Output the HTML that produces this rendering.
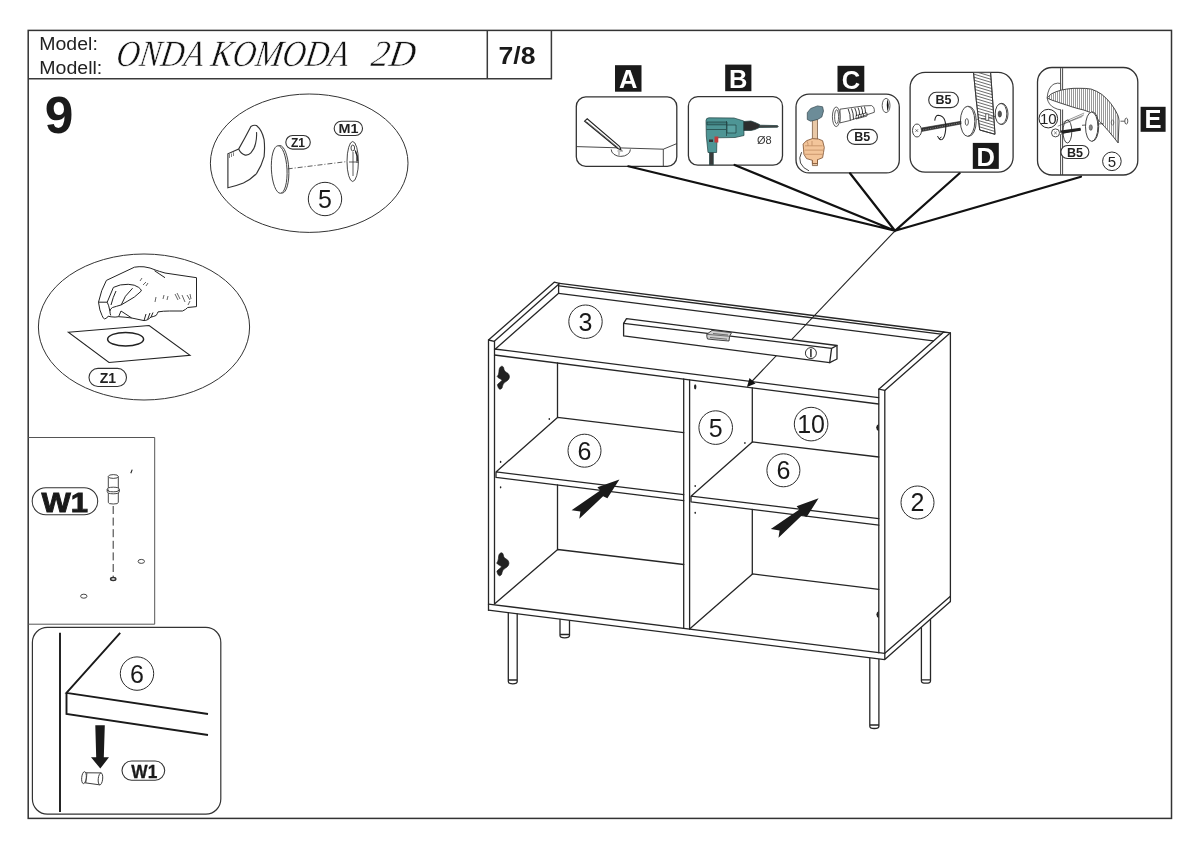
<!DOCTYPE html>
<html><head><meta charset="utf-8">
<style>
html,body{margin:0;padding:0;background:#fff;width:1200px;height:849px;overflow:hidden}
svg{position:absolute;left:0;top:0;display:block;will-change:transform}
text{font-family:"Liberation Sans",sans-serif}
.l{fill:none;stroke:#262626;stroke-width:1.3;stroke-linejoin:round;stroke-linecap:round}
.t{fill:none;stroke:#333;stroke-width:1}
.k{fill:none;stroke:#111;stroke-width:2.2;stroke-linecap:round}
.b{fill:none;stroke:#3a3a3a;stroke-width:1.5}
.c{fill:#fff;stroke:#2a2a2a;stroke-width:1}
.n{font-size:25px;fill:#1a1a1a;text-anchor:middle}
.pill{fill:#fff;stroke:#333;stroke-width:1.1}
.pt{font-weight:bold;fill:#222;text-anchor:middle}
</style></head><body>
<svg width="1200" height="849" viewBox="0 0 1200 849">
<!-- outer border -->
<rect x="28.2" y="30.4" width="1143.3" height="788" fill="none" stroke="#333" stroke-width="1.5"/>
<!-- header -->
<path class="b" d="M28.2 78.7H551.4V30.4M487.3 30.4V78.7"/>
<text x="39.3" y="49.8" font-size="17.5" fill="#222" textLength="58.5" lengthAdjust="spacingAndGlyphs">Model:</text>
<text x="39.3" y="73.8" font-size="17.5" fill="#222" textLength="63" lengthAdjust="spacingAndGlyphs">Modell:</text>
<text transform="translate(0 65.8) skewX(-9) translate(0 -65.8)" x="115" y="65.8" style="font-family:'Liberation Serif',serif;font-style:italic" font-size="37" fill="#111" stroke="#fff" stroke-width="0.5" textLength="232" lengthAdjust="spacingAndGlyphs">ONDA KOMODA</text>
<text transform="translate(0 65.8) skewX(-9) translate(0 -65.8)" x="370" y="65.8" style="font-family:'Liberation Serif',serif;font-style:italic" font-size="37" fill="#111" stroke="#fff" stroke-width="0.5" textLength="44" lengthAdjust="spacingAndGlyphs">2D</text>
<text x="498.5" y="63.8" font-size="23" font-weight="bold" fill="#1a1a1a" textLength="37" lengthAdjust="spacingAndGlyphs">7/8</text>
<text x="59.2" y="132.8" font-size="51.5" font-weight="bold" fill="#1a1a1a" text-anchor="middle">9</text>



<!-- ===== LEFT PANELS ===== -->
<!-- ellipse 1: Z1 M1 -->
<ellipse cx="309.2" cy="163.2" rx="98.8" ry="69.2" fill="none" stroke="#333" stroke-width="1"/>
<g fill="none" stroke="#333" stroke-width="0.9">
<path stroke-width="1.15" d="M227.9 187.7V153.8L238.6 149.1Q245 138 250.9 126.5Q253.5 124.8 256.5 125.5Q262 130 264.1 139.7Q265 148 264.1 156.6Q261.5 166 256.5 173.6Q250 180 243.4 183Q236 186 227.9 187.7Z" fill="#fff"/>
<path stroke-width="1.1" d="M238.6 149.1Q241 154 245.2 155.1Q248.5 155.5 250.9 152.9Q254.5 149 255.6 143.4Q257 137 256.5 132.1"/>
<path d="M229.5 154V158M231.5 153.5V157M233.5 152.3V156" stroke-width="0.6"/>
<ellipse cx="281" cy="169.3" rx="7.8" ry="23.8" transform="rotate(-3 281 169.3)" fill="#fff"/>
<ellipse cx="279.2" cy="169.5" rx="7.8" ry="23.8" transform="rotate(-3 279.2 169.5)" fill="#fff"/>
<path d="M287.7 168.9L347.5 161.5" stroke-dasharray="5 2 1 2" stroke-width="0.8"/>
<ellipse cx="352.7" cy="161.5" rx="5.7" ry="20" fill="#fff"/>
<ellipse cx="352.8" cy="148" rx="1.8" ry="3"/>
<path d="M349 162H358.5M353 152V176M355 150Q358 156 357 163" stroke-width="0.8"/>
<path d="M355.5 151Q358 156 357.2 161" stroke="#222" stroke-width="1.3"/>
</g>
<g class="pill"><rect x="285.8" y="135.5" width="24.5" height="13.6" rx="6.8"/><rect x="334.2" y="121.2" width="28.3" height="14.3" rx="7.1"/></g>
<g class="pt" font-size="12"><text x="298" y="146.5">Z1</text><text x="348.4" y="133" font-size="13.5" textLength="20" lengthAdjust="spacingAndGlyphs">M1</text></g>
<circle class="c" cx="325" cy="199" r="16.7"/>
<text class="n" x="325" y="207.9">5</text>

<!-- ellipse 2: hand + paper -->
<ellipse cx="144" cy="327" rx="105.6" ry="73" fill="none" stroke="#333" stroke-width="1"/>
<g fill="none" stroke="#222" stroke-width="1">
<path d="M68.3 332.3L149.1 325.5L190 355.4L109 362.5Z" stroke-width="1.1"/>
<ellipse cx="125.6" cy="339.2" rx="18" ry="6.8" stroke-width="1.5"/>
<path d="M196.5 277.7L165 273Q158 271 156.2 270.3Q150 267.5 144 266.8Q139 266.4 134.4 267.2L106.4 280.4Q101 290 98.5 302.2Q99.5 311 102 315.4Q103 318.5 104.6 318.9Q107 318.5 108.1 316.2Q110.5 317 115.1 317.1L118.6 316.7Q125 317 131.7 318L144 320.6Q146 320.5 147.5 319.7Q149.5 318.5 151 317.1Q154 316.5 156.2 315.4Q157.5 313.5 158 311.9Q163 311 169.4 311L182.5 311Q186 309.5 187.7 307.5L196.5 306.6Z" fill="#fff"/>
<path d="M98.5 302.2L107.2 302.2Q108.8 305 109.9 311Q110 313.5 110.7 315.4"/>
<path d="M107.2 302.2L113.4 287.4Q120 284 128.2 284.3Q135 284.5 138.7 287.4Q141 289 141.4 290.9Q138 294 134.4 297Q128 301 121.2 304.9Q116 306.5 112.5 307.5Q110 309 109.9 311"/>
<path d="M121.2 304.9Q124 296 132.6 288.2M116 291Q113 297 111 305M118.6 316.7L121 311L131.7 318M144 320.6L146 314M147.5 319.7L150 313M151 317.1L153 312.5M154.5 270.7L165 277.7"/>
<path d="M140 281L142 278M143 285L146 282M146 286L148 283M155 302L156 297M163 299L164 295M167 300L168 296M175 294L178 300M177 293L180 299M182 295L185 302M187 295L190 300M190 294L191 299M188 305L190 301" stroke-width="0.7"/>
</g>
<rect class="pill" x="89" y="368.4" width="37.5" height="18.1" rx="9"/>
<text class="pt" x="107.8" y="382.8" font-size="14">Z1</text>

<!-- W1 panel -->
<path d="M28.2 437.5H154.7V624.2H28.2" fill="none" stroke="#555" stroke-width="1"/>
<rect x="32.2" y="487.7" width="65.5" height="27.1" rx="13.5" fill="#fff" stroke="#333" stroke-width="1.1"/>
<text x="41.5" y="512.3" font-size="27.5" font-weight="bold" fill="#1a1a1a" stroke="#1a1a1a" stroke-width="0.9" textLength="46.5" lengthAdjust="spacingAndGlyphs">W1</text>
<g fill="none" stroke="#333" stroke-width="0.9">
<path d="M108.3 476.5V502.5Q108.3 504 113.3 504Q118.3 504 118.3 502.5V476.5" fill="#fff"/>
<ellipse cx="113.3" cy="476.5" rx="5" ry="1.9" fill="#fff"/>
<path d="M107.2 489.5Q107.2 491.8 113.3 491.8Q119.4 491.8 119.4 489.5M107.2 489.5Q107.2 487.2 113.3 487.2Q119.4 487.2 119.4 489.5V491.5Q119.4 493.8 113.3 493.8Q107.2 493.8 107.2 491.5Z" fill="#fff"/>
<path d="M113.2 506V577" stroke-dasharray="8 3.6" stroke-width="1"/>
<ellipse cx="113.2" cy="579" rx="2.6" ry="1.5" stroke-width="1.5"/>
<ellipse cx="141.3" cy="561.4" rx="3.2" ry="2"/>
<ellipse cx="83.8" cy="596.2" rx="3.2" ry="2"/>
<path d="M130.8 473.3L132.2 469.6" stroke-width="1.1" stroke="#222"/>
</g>

<!-- bottom-left panel -->
<rect x="32.4" y="627.4" width="188.4" height="186.7" rx="15" fill="none" stroke="#333" stroke-width="1.2"/>
<g fill="none" stroke="#1a1a1a" stroke-width="1.9">
<path d="M60 632.8V812"/>
<path d="M120.2 632.8L66.5 692.9L208 714M66.5 692.9V714L208 735"/>
</g>
<circle class="c" cx="137" cy="673.6" r="16.7"/>
<text class="n" x="137" y="682.5">6</text>
<path d="M95.3 725.3H104.8L103.8 757.2H109L100.3 768.6L91 757.2H96.2Z" fill="#1a1a1a"/>
<rect x="122" y="761" width="42.7" height="19.2" rx="9.6" fill="#fff" stroke="#333" stroke-width="1.1"/>
<text x="131.3" y="777.5" font-size="17.5" font-weight="bold" fill="#1a1a1a" stroke="#1a1a1a" stroke-width="0.3" textLength="26" lengthAdjust="spacingAndGlyphs">W1</text>
<g fill="#fff" stroke="#333" stroke-width="0.9" transform="rotate(6 92 778)">
<path d="M85 773.5L100.5 772V784L85 783.5Z"/>
<ellipse cx="84" cy="778.5" rx="2.3" ry="6"/>
<ellipse cx="100.5" cy="778" rx="2.2" ry="6"/>
<path d="M86.5 773.5V783.5" stroke-width="0.6"/>
</g>

<!-- ===== TOOL BOXES ===== -->
<g fill="#fff" stroke="#333" stroke-width="1.3">
<rect x="576.3" y="96.9" width="100.5" height="69.4" rx="9.5"/>
<rect x="688.4" y="96.6" width="94.1" height="68.6" rx="9.5"/>
<rect x="796" y="94.1" width="103.3" height="78.8" rx="13"/>
<rect x="910.1" y="72.4" width="103" height="99.8" rx="15"/>
<rect x="1037.5" y="67.5" width="100.3" height="107.5" rx="14.5"/>
</g>
<g fill="#1a1a1a">
<rect x="615" y="65.2" width="26.5" height="26.5"/>
<rect x="725.2" y="64.6" width="26.2" height="26.6"/>
<rect x="837.5" y="65.8" width="26.8" height="26"/>
<rect x="972.8" y="142.9" width="26" height="26"/>
<rect x="1140.6" y="106.8" width="25" height="25"/>
</g>
<g font-weight="bold" fill="#fff" font-size="25.5" text-anchor="middle">
<text x="628.2" y="88.3">A</text>
<text x="738.3" y="87.7">B</text>
<text x="851" y="88.5">C</text>
<text x="985.8" y="165.5">D</text>
<text x="1153.1" y="128.3">E</text>
</g>
<!-- A content -->
<g fill="none" stroke="#333" stroke-width="0.9">
<path d="M576.7 146.6L663.3 149.2L676.8 143.6M663.3 149.2V166.2"/>
<path d="M611.2 149.4A9.6 7 0 0 0 630.4 149.4"/>
<path d="M584.6 121.2L587.2 118.8L619.7 146.5L620.9 149.8L617.8 148.5Z" fill="#fff" stroke="#222" stroke-width="1.1"/>
<path d="M586.4 121.6L618.5 148" stroke="#444" stroke-width="0.7"/>
<path d="M619 152V155M617.5 151H623" stroke-width="0.6"/>
</g>
<!-- B drill -->
<g stroke="#1f3f3f" stroke-width="0.7">
<path d="M709.5 152.3H713.3V164.8H709.5Z" fill="#3a3a3a"/>
<path d="M706 120.5Q706 118 709 117.8L734 118L743.8 121L744 135.5L735 137.5L717 137.8L716.6 152.5L708 152.5L706.3 136Z" fill="#4e9595"/>
<path d="M707 122H727V124.8H707Z" fill="#3f8080"/>
<path d="M726.5 121V136M706.5 129.5H726" fill="none"/>
<path d="M727 125H736V133H727Z" fill="#5aa2a2"/>
<path d="M743.8 121.5L751 121L755 122.5L759.5 124.5V127.5L755 129.5L751 130.5L743.8 130.5Z" fill="#2c2c2c"/>
<path d="M759.5 125.2L777.5 125.6L778.3 126.5L777.5 127.3L759.5 127.5Z" fill="#444"/>
<path d="M714.5 136.5H718.3V142.5H714.5Z" fill="#c23a3a" stroke="none"/>
<path d="M709 139.5H713V142H709Z" fill="#333" stroke="none"/>
</g>
<text x="757" y="143.6" font-size="11" fill="#333">Ø8</text>
<!-- C hammer & dowel -->
<path d="M801.6 152.2Q798.5 158 800.5 163Q803 168.5 809 170.8" fill="none" stroke="#333" stroke-width="0.9"/>
<path d="M812.4 119.5H817.5V165.6H812.4Z" fill="#e9c8a6" stroke="#6a4a30" stroke-width="0.7"/>
<path d="M807.3 112.7L810.7 108.5L817.5 105.9L822.6 106.8L823.5 111L821.8 117L817.5 119.5L810.7 121.2L807.3 119.5Z" fill="#6c8c98" stroke="#34464e" stroke-width="0.7"/>
<path d="M803.1 144.1L806.5 140.7L812.4 138.6L818.4 139L822.6 140.7L824.3 147.5L823.5 152.6L822.6 157.7L818.4 159.4L817.5 159.6V163.5H812.4V160.3L806.5 158.6L803.9 154.3L803.5 149.2Z" fill="#f3c59a" stroke="#7a4c2c" stroke-width="0.8"/>
<path d="M805 145.8H822.5M804.5 150.1H823M805 154.3H822.5M812 141V145.5M806.5 140.7Q808.5 143 808 145.8" stroke="#b07a50" stroke-width="0.6" fill="none"/>
<g fill="#fff" stroke="#333" stroke-width="0.8">
<path d="M840 109.2L863.7 105.9L871.6 105.6Q874.3 107 874.3 109.5V112.3L849.2 120.7L840 122.9Z"/>
<ellipse cx="836.2" cy="116.8" rx="3.8" ry="9.8"/>
<ellipse cx="836.6" cy="116.8" rx="2" ry="7"/>
<path d="M848.2 109Q850.5 114 850.3 120.5M851.5 108.5Q853.5 113 853.5 119.5M854.8 108Q856.8 112 856.5 116M858 107.5Q859.8 111 859.5 115M861.2 107Q862.8 110 862.6 114M864.4 106.5Q865.5 109 865.5 113" fill="none" stroke="#222" stroke-width="0.9"/>
<path d="M856 115.5L867 112.8V116L856 119Z M858.5 115V118.3M861 114.3V117.6M863.5 113.7V117" fill="none" stroke="#222" stroke-width="0.7"/>
<ellipse cx="886.1" cy="105.5" rx="3.9" ry="7.1"/>
</g>
<path d="M887.2 99.3Q890.2 105.5 887.4 111.6Q886.2 105.5 887.2 99.3Z" fill="#111"/>
<!-- D -->
<defs><clipPath id="bandclip"><path d="M973.5 72.6L990.6 72.6Q993 104 995 134.3L979.7 130Q976 100 973.5 72.6Z"/></clipPath></defs>
<g fill="none" stroke="#333" stroke-width="0.8">
<path d="M973.5 72.6L990.6 72.6Q993 104 995 134.3L979.7 130Q976 100 973.5 72.6Z" fill="#fff"/>
<path clip-path="url(#bandclip)" d="M970 70.0L1000 79.0M970 73.0L1000 82.0M970 76.0L1000 85.0M970 79.0L1000 88.0M970 82.0L1000 91.0M970 85.0L1000 94.0M970 88.0L1000 97.0M970 91.0L1000 100.0M970 94.0L1000 103.0M970 97.0L1000 106.0M970 100.0L1000 109.0M970 103.0L1000 112.0M970 106.0L1000 115.0M970 109.0L1000 118.0M970 112.0L1000 121.0M970 115.0L1000 124.0M970 118.0L1000 127.0M970 121.0L1000 130.0M970 124.0L1000 133.0M970 127.0L1000 136.0M970 130.0L1000 139.0M970 133.0L1000 142.0" stroke-width="0.75" stroke="#3a3a3a"/>
<path d="M973.5 72.6Q976 100 979.7 130L995 134.3Q993 104 990.6 72.6" stroke-width="0.9"/>
<ellipse cx="968.8" cy="121.3" rx="7.4" ry="15" fill="#fff" stroke-width="0.9"/>
<ellipse cx="967.6" cy="121.3" rx="7.2" ry="15" fill="#fff" stroke-width="0.9"/>
<ellipse cx="966.8" cy="122" rx="1.6" ry="3.4" stroke-width="0.8"/>
<ellipse cx="1001.8" cy="113.9" rx="6.2" ry="10.6" fill="#fff" stroke-width="0.9"/>
<ellipse cx="1001" cy="113.9" rx="5.8" ry="10.4" fill="#fff" stroke-width="0.9"/>
<ellipse cx="999.8" cy="114" rx="1.7" ry="3.1" fill="#555" stroke-width="0.6"/>
<path d="M985.7 113.9H988.7V120.3H985.7Z" fill="#fff" stroke-width="0.7"/>
<path d="M976.5 119.4L979 119.2M981 118.9L985.7 118.4M988.7 117.8L995 116.4" stroke-width="0.7"/>
<path d="M921.5 128L961 121.3L961 124L921.5 131.5Z" fill="#333" stroke="#222" stroke-width="0.6"/>
<path d="M923 130L961 122.7" stroke="#999" stroke-width="0.7" stroke-dasharray="1.2 1.2"/>
<ellipse cx="917" cy="130.5" rx="4.5" ry="6.5" fill="#fff" stroke-width="0.9"/>
<path d="M915.5 129.3L918 131.8M918 129.3L915.5 131.8" stroke-width="0.7"/>
<path d="M934.7 120.7Q935.5 115.2 938.2 115.2Q943.5 115.5 944.9 120.7Q946.5 126 945.7 129.2Q945 137 942.3 139.4Q940.5 140.5 939 138.5" stroke-width="1.1" stroke="#222"/>
<path d="M937.5 136L939 138.8L941.5 137" stroke-width="1" stroke="#222"/>
</g>
<!-- E -->
<g fill="none" stroke="#333" stroke-width="0.8">
<path d="M1060.6 68.2V91M1062.6 68.2V91M1060.6 109.5V175M1062.6 109.5V175" stroke-width="0.9"/>
<path d="M1047.1 98Q1048 87 1054 84Q1058 82.5 1060.6 83.5V91M1047.1 98Q1048.5 105 1054.1 107.7Q1057.5 109.5 1060.8 109.9" fill="#fff"/>
<path d="M1047.1 98Q1051 93 1055.9 91.8Q1061 89.8 1066.5 89.1Q1073 88 1079.8 88.3Q1086 88.2 1091.2 89.1Q1097 91 1101.8 94.4Q1107 98.5 1110.7 103.3Q1115 109 1117.7 114.8Q1119 118 1119 121L1118.2 143Q1114 137.5 1108.9 131.5Q1104.5 126.5 1100.1 121.8Q1095 116.5 1089.5 112.1Q1084 109.8 1078 108.6Q1072 107 1066.5 105Q1061 103.3 1055.9 101.5Q1051 100 1047.1 98Z" fill="#fff" stroke-width="0.9"/>
<path d="M1049.5 95.5V99.2M1051.5 94.3V99.8M1053.5 93.3V100.7M1055.5 92.3V101.4M1057.5 91.5V102M1059.5 90.8V102.7M1061.5 90.3V103.4M1063.5 89.8V104M1065.5 89.4V104.7M1067.5 89V105.3M1069.5 88.7V106M1071.5 88.5V106.5M1073.5 88.3V107M1075.5 88.2V107.6M1077.5 88.2V108.3M1079.5 88.2V108.8M1081.5 88.3V109.3M1083.5 88.4V109.9M1085.5 88.6V110.6M1087.5 88.8V111.3M1089.5 89.1V112.1M1091.5 89.3V113.6M1093.5 90V115.2M1095.5 91V117M1097.5 91.8V118.8M1099.5 93V120.8M1101.5 94.3V122.7M1103.5 96V124.8M1105.5 98V127M1107.5 100V129.8M1109.5 102.2V132.6M1111.5 104.8V135.2M1113.5 107.8V137.5M1115.5 110.8V140M1117.3 114.5V142" stroke-width="0.55" stroke="#444"/>
<path d="M1062.1 122.7L1084.2 113M1062.1 124.5L1084 114.8M1057.7 126.2L1082.4 116.5" stroke-width="0.5"/>
<ellipse cx="1067.4" cy="131.5" rx="4.4" ry="11.5" stroke-width="0.9"/>
<path d="M1061 132L1080.6 129.3" stroke="#222" stroke-width="3"/>
<path d="M1063 133L1080.6 129.3" stroke="#222" stroke-width="1.5"/>
<circle cx="1055.5" cy="132.9" r="4" fill="#fff" stroke-width="0.9"/>
<path d="M1054.2 131.6L1056.8 134.2M1056.8 131.6L1054.2 134.2" stroke-width="0.6"/>
<path d="M1059.5 132.5H1061.5V134.5H1059.5Z" fill="#fff" stroke-width="0.4"/>
<path d="M1085.8 125L1082 125.3M1098.5 124L1103 123.6M1120.5 121.2L1124.8 121.2"/>
<ellipse cx="1092.5" cy="126.5" rx="6.2" ry="14.6" fill="#fff" stroke-width="0.9"/>
<ellipse cx="1091.7" cy="126.7" rx="6.2" ry="14.6" fill="#fff" stroke-width="0.9"/>
<ellipse cx="1090.8" cy="127.5" rx="1.6" ry="2.8" fill="#888" stroke-width="0.5"/>
<ellipse cx="1126.3" cy="121.1" rx="1.5" ry="3"/>
<ellipse cx="1112.5" cy="122.5" rx="1.3" ry="2.5" stroke-width="0.5"/>
</g>
<g class="c"><circle cx="1048.3" cy="118.6" r="9.3"/><circle cx="1111.9" cy="161.3" r="9.3"/></g>
<g font-size="15" fill="#222" text-anchor="middle"><text x="1048.3" y="124">10</text><text x="1111.9" y="166.8">5</text></g>
<!-- B5 pills -->
<g class="pill"><rect x="847.3" y="129.4" width="30.1" height="15" rx="7.5"/><rect x="928.7" y="92.3" width="29.8" height="15.3" rx="7.6"/><rect x="1060.9" y="145.5" width="28" height="13" rx="6.5"/></g>
<g class="pt" font-size="12.5"><text x="862.3" y="141.2">B5</text><text x="943.6" y="104.2">B5</text><text x="1074.9" y="156.5">B5</text></g>

<!-- ===== CABINET ===== -->
<path d="M895 230.8L748 385.5" stroke="#222" stroke-width="1.1" fill="none"/>

<g class="l">
<!-- left side panel -->
<path d="M488.5 340L554.2 282.2L559.5 283.4L494.3 341.3Z"/>
<path d="M488.5 340V610.2M494.5 341.3V604"/>
<path d="M495.4 349L558.6 293.3V283.6"/>
<!-- back rim -->
<path d="M559.5 283.4L943.7 332M559 285.8L941 334.2M558.6 293.3L933.3 340.8"/>
<!-- top panel front -->
<path d="M494.5 349L878.6 397.6M494.5 355L878.6 404"/>
<!-- right side panel -->
<path d="M878.8 389.2L943.7 332L950.4 332.8L884.8 390.4Z"/>
<path d="M878.8 389.2V652.8M884.8 390.4V653.4M950.4 332.8V601.6"/>
<!-- bottom panel -->
<path d="M488.5 604.1L884.8 653.3L950.4 596.2M488.5 610.2L884.8 659.6L950.4 601.6M884.8 653.3V659.6"/>
<!-- middle divider -->
<path d="M683.7 379V628.3M689.6 379.8V629"/>
<!-- left compartment -->
<path d="M557.5 362.8V417.4M557.5 485V549.5"/>
<path d="M557.5 417.4L683.7 432.7M496 471.9L557.5 417.4M496 471.9L683.7 494.7M496 477.4L683.7 500.6M496 471.9V477.4"/>
<path d="M557.7 549.5L683.7 564.5M495 603.6L557.7 549.5"/>
<!-- right compartment -->
<path d="M752.3 387.8V441.9M752.3 509.4V573.9"/>
<path d="M752.3 441.9L878.8 457M691 496.2L752.3 441.9M691 496.2L878.8 518.6M691 501.8L878.8 525.2M691 496.2V501.8"/>
<path d="M752.5 573.9L878.8 589.4M689.6 628.9L752.5 573.9"/>
<!-- legs -->
<path d="M508.3 612.7V681.5Q508.3 683.8 512.7 683.8Q517.2 683.8 517.2 681.5V613.8M508.6 680H516.9"/>
<path d="M560 619.4V635.5Q560 637.8 564.7 637.8Q569.5 637.8 569.5 635.5V620.6M560.3 634.5H569.2"/>
<path d="M869.8 658.3V726.2Q869.8 728.5 874.3 728.5Q878.9 728.5 878.9 726.2V659.5M870.1 725H878.6"/>
<path d="M921.4 627.4V680.9Q921.4 683.2 926 683.2Q930.5 683.2 930.5 680.9V619.5M921.7 679.8H930.2"/>
</g>
<!-- level bar -->
<g class="l">
<path d="M623.6 323.4L626.5 318.6L837 345.5V359L829.7 362.7L623.6 335.9Z" fill="#fff"/><path d="M623.6 323.4L831.6 348.3L837 345.5M831.6 348.3L829.7 362.7"/>
</g>
<path d="M706.8 334.3L712 330.4L731.6 332.6L729.6 336.3L729 341Q718 340.2 707.5 339Q706.6 337 706.8 334.3Z" fill="#cfcfcf" stroke="#333" stroke-width="0.9"/>
<path d="M706.8 334.3L729.6 336.3M710 337.5L727 339.2M713 333.5L728 335" stroke="#444" stroke-width="0.7" fill="none"/>
<circle cx="810.9" cy="353.1" r="5.5" fill="#fff" stroke="#333" stroke-width="1"/>
<path d="M810.9 349V357.2" stroke="#333" stroke-width="1.6"/>
<!-- numbers -->
<g class="c"><circle cx="585.5" cy="321.7" r="16.7"/><circle cx="584.5" cy="450.7" r="16.5"/><circle cx="715.7" cy="427.6" r="16.8"/><circle cx="811.1" cy="424.1" r="16.8"/><circle cx="783.4" cy="470.3" r="16.5"/><circle cx="917.5" cy="502.5" r="16.5"/></g>
<g class="n"><text x="585.5" y="330.6">3</text><text x="584.5" y="459.6">6</text><text x="715.7" y="436.5">5</text><text x="811.1" y="433">10</text><text x="783.4" y="479.2">6</text><text x="917.5" y="511.4">2</text></g>

<!-- hinges -->
<path id="hinge" d="M501.7 366.2C499.5 367 499 369 498.9 372C498.8 374 498 375.5 497.2 376.6C498 378 500 378.6 502.2 380.2C501 381.6 498.5 383 497.4 384.8C497.8 387 498.8 389 499.9 389.3C501.6 389 502.4 387.8 502.4 386.5C502.8 384.8 503.5 383.6 504.5 382.6C506.5 381.2 509.2 379.8 509.4 377.2C509.5 375 508.6 373.4 506.5 372.4C505 371.6 504 370.4 503.8 368.5C503.6 367 502.8 366.2 501.7 366.2Z" fill="#222" stroke="#111" stroke-width="0.6"/>
<use href="#hinge" x="-0.5" y="186.5"/>
<!-- holes/dots -->
<g fill="#222">
<ellipse cx="549.3" cy="418.9" rx="0.8" ry="1"/><ellipse cx="500.6" cy="461.9" rx="0.8" ry="1.1"/><ellipse cx="500.6" cy="487.3" rx="0.8" ry="1.1"/>
<ellipse cx="695.2" cy="386.8" rx="1.2" ry="2.6"/><ellipse cx="744.9" cy="443" rx="0.8" ry="1"/><ellipse cx="695.2" cy="486" rx="0.8" ry="1.1"/><ellipse cx="695.2" cy="512.8" rx="0.8" ry="1.1"/>
<path d="M878.6 424V431Q876.2 430 876.2 427.5Q876.2 425 878.6 424Z"/>
<path d="M878.6 611V618Q876.4 617 876.4 614.5Q876.4 612 878.6 611Z"/>
</g>
<!-- push arrows -->
<polygon points="619.4,479.4 597.4,487.3 600.2,490.6 571.6,510.2 580.4,511.5 579.3,518.8 603.1,496.2 607.4,498.2" fill="#1a1a1a"/>
<polygon points="818.6,498.3 796.6,506.2 799.4,509.5 770.8,529.1 779.6,530.4 778.5,537.7 802.3,515.1 806.6,517.1" fill="#1a1a1a"/>
<!-- connector lines -->
<g class="k"><path d="M628.3 166.3L895 230.8L734.6 165M850 173.3L895 230.8L959.6 173.3M895 230.8L1081 176.7"/></g>
<path d="M747 387L749.5 378L755.5 383.5Z" fill="#111"/>
</svg>
</body></html>
